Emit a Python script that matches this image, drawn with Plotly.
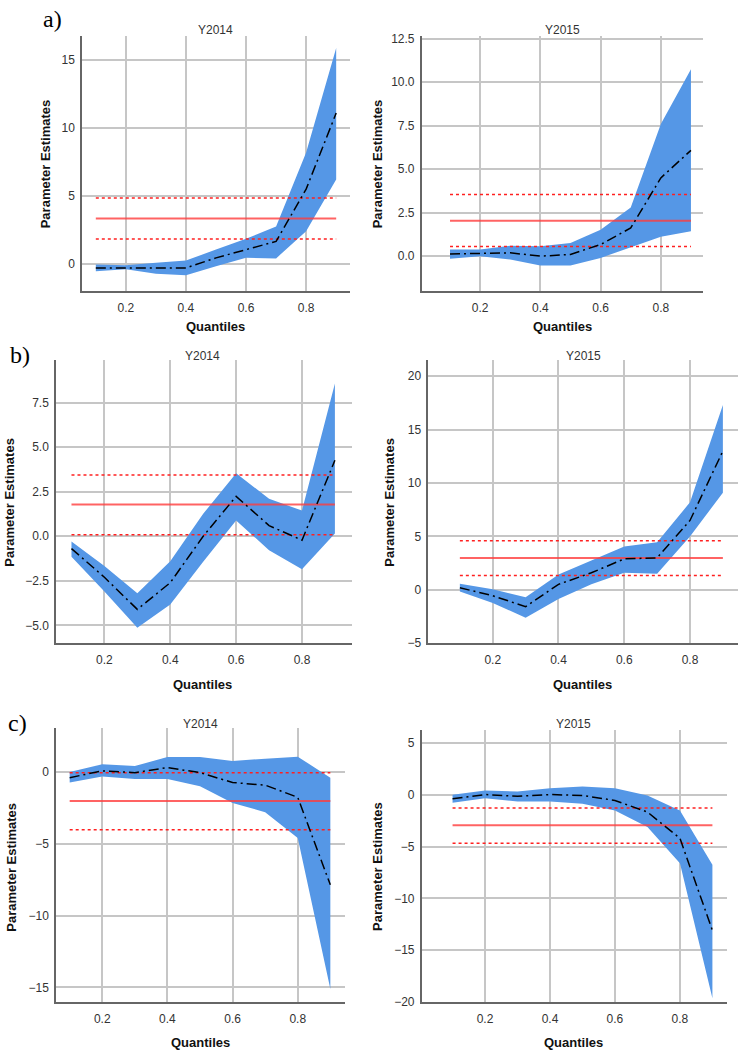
import plotly.graph_objects as go

W, H = 741, 1057

quantiles = [0.1, 0.2, 0.3, 0.4, 0.5, 0.6, 0.7, 0.8, 0.9]

# a) Y2014
a14_est = [-0.3, -0.3, -0.3, -0.3, 0.44, 1.05, 1.65, 5.5, 11.1]
a14_up = [-0.05, -0.1, 0.07, 0.24, 1.05, 1.85, 2.75, 8.2, 15.9]
a14_lo = [-0.55, -0.4, -0.73, -0.85, -0.17, 0.44, 0.4, 2.4, 6.2]
a14_ols = [3.33, 4.85, 1.83]
# a) Y2015
a15_est = [0.13, 0.15, 0.19, 0.0, 0.1, 0.67, 1.62, 4.5, 6.08]
a15_up = [0.38, 0.38, 0.6, 0.57, 0.76, 1.52, 2.8, 7.6, 10.74]
a15_lo = [-0.15, 0.0, -0.19, -0.53, -0.53, -0.1, 0.51, 1.12, 1.43]
a15_ols = [2.03, 3.54, 0.55]
# b) Y2014
b14_est = [-0.69, -2.3, -4.1, -2.6, 0.0, 2.24, 0.6, -0.22, 4.26]
b14_up = [-0.3, -1.67, -3.2, -1.4, 1.26, 3.54, 2.1, 1.44, 8.57]
b14_lo = [-1.15, -3.1, -5.13, -3.83, -1.43, 0.89, -0.78, -1.85, 0.15]
b14_ols = [1.78, 3.43, 0.09]
# b) Y2015
b15_est = [0.2, -0.55, -1.57, 0.52, 1.6, 2.9, 3.0, 6.5, 13.0]
b15_up = [0.58, 0.06, -0.7, 1.45, 2.74, 4.06, 4.46, 8.2, 17.3]
b15_lo = [-0.15, -1.23, -2.6, -0.86, 0.52, 1.6, 1.5, 5.0, 9.1]
b15_ols = [2.98, 4.6, 1.35]
# c) Y2014
c14_est = [-0.4, 0.07, -0.05, 0.3, -0.05, -0.74, -0.92, -1.77, -7.86]
c14_up = [0.0, 0.53, 0.41, 1.03, 1.03, 0.76, 0.92, 1.06, -0.4]
c14_lo = [-0.74, -0.32, -0.5, -0.5, -1.0, -2.16, -2.8, -4.6, -15.1]
c14_ols = [-2.02, -0.05, -4.02]
# c) Y2015
c15_est = [-0.38, 0.03, -0.13, 0.03, -0.06, -0.54, -1.66, -4.2, -13.1]
c15_up = [0.0, 0.41, 0.32, 0.64, 0.8, 0.64, -0.06, -1.5, -6.75]
c15_lo = [-0.76, -0.32, -0.64, -0.64, -0.86, -1.5, -3.1, -6.6, -19.65]
c15_ols = [-2.93, -1.27, -4.68]

x_ticks = [0.2, 0.4, 0.6, 0.8]

panels = [
    # data, box px (x0,x1,y0,y1), xrange, yrange, dtick, fmt, title
    dict(est=a14_est, up=a14_up, lo=a14_lo, ols=a14_ols, box=(82, 350, 32, 290),
         xr=[0.054, 0.946], yr=[-2, 16.8], dt=5, fmt="d", title="Y2014",
         ttl=(216, 26), ylab=(45, 162), xlab=(216, 326)),
    dict(est=a15_est, up=a15_up, lo=a15_lo, ols=a15_ols, box=(421.7, 703, 32, 290),
         xr=[0.006, 0.94], yr=[-2, 12.67], dt=2.5, fmt=".1f", title="Y2015",
         ttl=(562, 26), ylab=(377, 162), xlab=(562, 326)),
    dict(est=b14_est, up=b14_up, lo=b14_lo, ols=b14_ols, box=(56, 351.7, 360, 646),
         xr=[0.053, 0.951], yr=[-6, 9.87], dt=2.5, fmt=".1f", title="Y2014",
         ttl=(202, 356), ylab=(10, 504), xlab=(202, 688)),
    dict(est=b15_est, up=b15_up, lo=b15_lo, ols=b15_ols, box=(428.3, 738, 360, 646),
         xr=[0.004, 0.946], yr=[-5, 21.5], dt=5, fmt="d", title="Y2015",
         ttl=(583, 356), ylab=(390, 504), xlab=(582, 688)),
    dict(est=c14_est, up=c14_up, lo=c14_lo, ols=c14_ols, box=(56, 345, 731.7, 1008.3),
         xr=[0.058, 0.945], yr=[-16, 3.05], dt=5, fmt="d", title="Y2014",
         ttl=(200, 728), ylab=(11.7, 872), xlab=(200, 1049)),
    dict(est=c15_est, up=c15_up, lo=c15_lo, ols=c15_ols, box=(421.7, 726.7, 733.3, 1008.3),
         xr=[0.005, 0.944], yr=[-20, 6.3], dt=5, fmt="d", title="Y2015",
         ttl=(573, 728), ylab=(378, 872), xlab=(573, 1049)),
]

BAND = "#5597E6"
GRID = "#C6C6C6"
AXIS = "#666666"
FONT = "Liberation Sans, Arial, sans-serif"


def px(x):
    return x / W


def py(y):
    return 1 - y / H


fig = go.Figure()
annotations = []
layout = {}

for i, p in enumerate(panels, start=1):
    xa = "x" if i == 1 else f"x{i}"
    ya = "y" if i == 1 else f"y{i}"
    xkey = "xaxis" if i == 1 else f"xaxis{i}"
    ykey = "yaxis" if i == 1 else f"yaxis{i}"
    x0, x1, y0, y1 = p["box"]

    # confidence band
    fig.add_trace(go.Scatter(
        x=quantiles + quantiles[::-1], y=p["up"] + p["lo"][::-1],
        fill="toself", fillcolor=BAND, line=dict(width=0, color=BAND),
        mode="lines", xaxis=xa, yaxis=ya, showlegend=False, hoverinfo="skip"))
    # OLS estimate and bounds
    ols_mid, ols_hi, ols_lo = p["ols"]
    for val, dash, col, w in [(ols_hi, "3px,3px", "#FF2020", 1.5),
                              (ols_lo, "3px,3px", "#FF2020", 1.5),
                              (ols_mid, "solid", "rgba(255,60,60,0.8)", 2)]:
        fig.add_trace(go.Scatter(
            x=[quantiles[0], quantiles[-1]], y=[val, val], mode="lines",
            line=dict(color=col, width=w, dash=dash),
            xaxis=xa, yaxis=ya, showlegend=False, hoverinfo="skip"))
    # quantile estimates
    fig.add_trace(go.Scatter(
        x=quantiles, y=p["est"], mode="lines",
        line=dict(color="black", width=1.5, dash="10px,4px,2px,4px"),
        xaxis=xa, yaxis=ya, showlegend=False))

    layout[xkey] = dict(
        domain=[px(x0), px(x1)], anchor=ya, range=p["xr"],
        tickvals=x_ticks, ticktext=["0.2", "0.4", "0.6", "0.8"],
        showgrid=True, gridcolor=GRID, gridwidth=1.5,
        showline=True, linecolor=AXIS, linewidth=1.5, zeroline=False,
        ticks="outside", ticklen=5, tickcolor="rgba(0,0,0,0)",
        tickfont=dict(family=FONT, size=12, color="#333333"))
    layout[ykey] = dict(
        domain=[py(y1), py(y0)], anchor=xa, range=p["yr"],
        tick0=0, dtick=p["dt"], tickformat=p["fmt"],
        showgrid=True, gridcolor=GRID, gridwidth=1.5,
        showline=True, linecolor=AXIS, linewidth=1.5, zeroline=False,
        ticks="outside", ticklen=3, tickcolor="rgba(0,0,0,0)",
        tickfont=dict(family=FONT, size=12, color="#333333"))

    annotations.append(dict(
        text=p["title"], x=px(p["ttl"][0]), y=py(p["ttl"][1]), xref="paper", yref="paper",
        showarrow=False, xanchor="center", yanchor="middle",
        font=dict(family=FONT, size=12, color="#333333")))
    annotations.append(dict(
        text="<b>Parameter Estimates</b>", x=px(p["ylab"][0]), y=py(p["ylab"][1]),
        xref="paper", yref="paper", showarrow=False, textangle=-90,
        xanchor="center", yanchor="middle",
        font=dict(family=FONT, size=13, color="#111111")))
    annotations.append(dict(
        text="<b>Quantiles</b>", x=px(p["xlab"][0]), y=py(p["xlab"][1]),
        xref="paper", yref="paper", showarrow=False,
        xanchor="center", yanchor="middle",
        font=dict(family=FONT, size=13, color="#111111")))

for lbl, (lx, ly) in [("a)", (52, 15)), ("b)", (20, 355)), ("c)", (17, 727))]:
    annotations.append(dict(
        text=lbl, x=px(lx), y=py(ly), xref="paper", yref="paper", showarrow=False,
        xanchor="center", yanchor="middle",
        font=dict(family="Liberation Serif, Times New Roman, serif", size=24, color="black")))

fig.update_layout(
    width=W, height=H, margin=dict(l=0, r=0, t=0, b=0),
    paper_bgcolor="white", plot_bgcolor="white",
    annotations=annotations, showlegend=False, **layout)

fig.write_html("out.html")
